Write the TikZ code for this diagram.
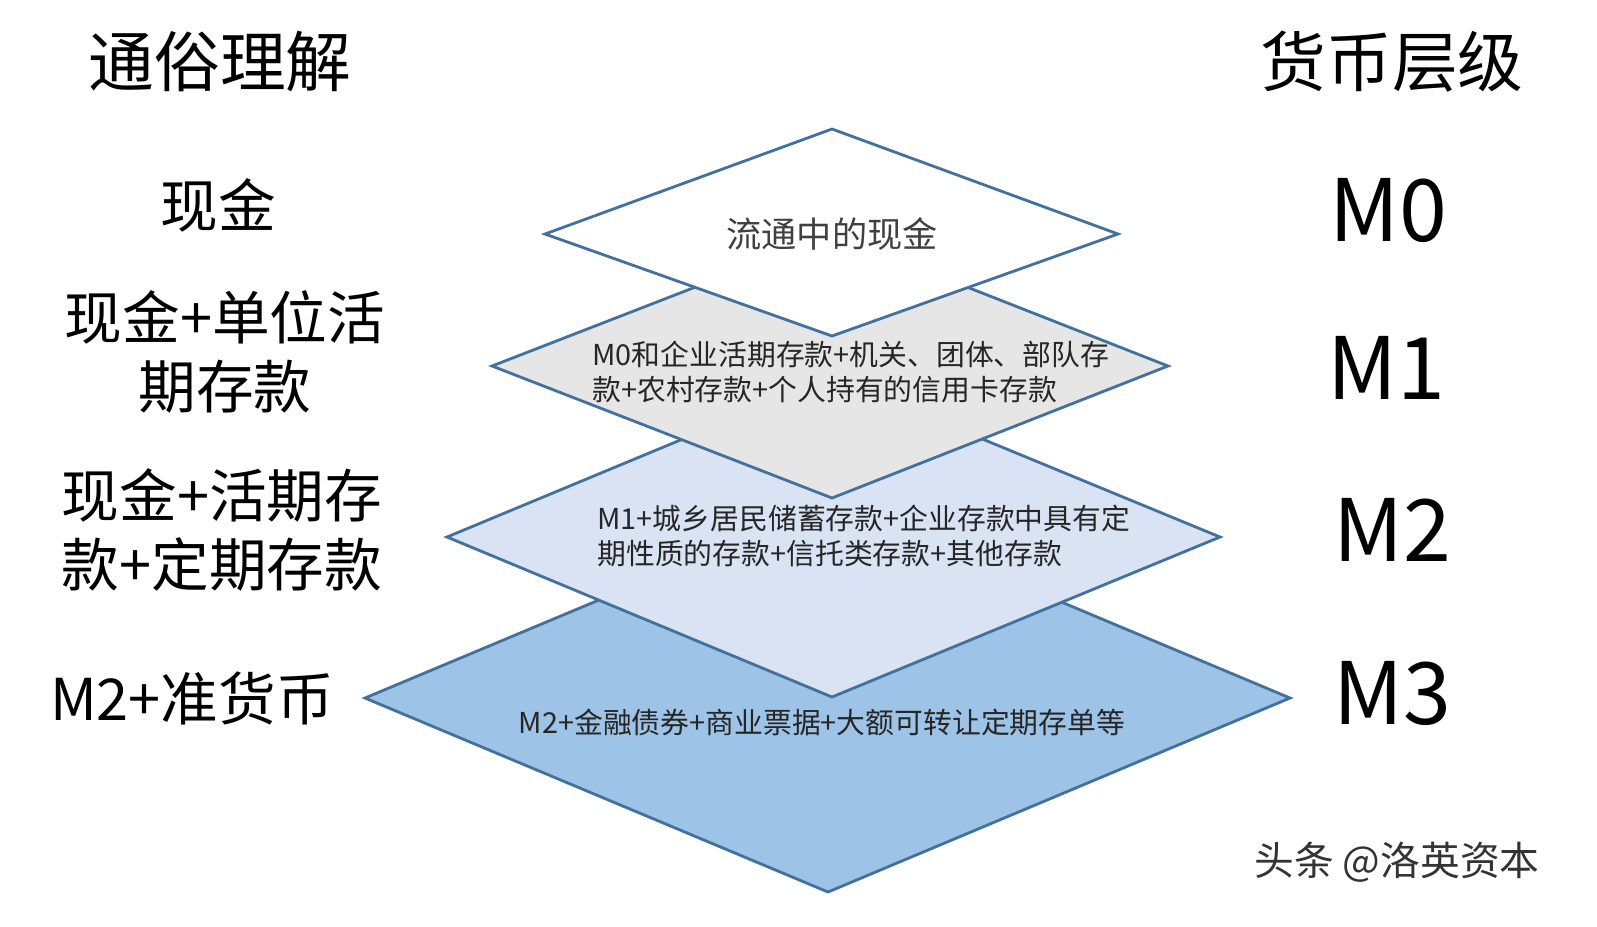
\documentclass[tikz,border=0pt]{standalone}
\usepackage{fontspec}
\setmainfont{Noto Sans CJK SC}
\definecolor{edge}{HTML}{41719C}
\definecolor{lvthree}{HTML}{9DC3E6}
\definecolor{lvtwo}{HTML}{DAE3F3}
\definecolor{lvone}{HTML}{E7E6E6}
\tikzset{
  layer/.style={draw=edge,line width=0.8pt},
  head/.style={font=\fontsize{18.7}{22}\selectfont},
  plain/.style={font=\fontsize{16.4}{19.5}\selectfont,align=center},
  level/.style={font=\fontsize{24.5}{28}\selectfont},
  inner/.style={font=\fontsize{8.2}{10}\selectfont,align=left,text=black!85}
}
\begin{document}
\begin{tikzpicture}[x=0.01cm,y=-0.01cm]
\useasboundingbox (0,0) rectangle (1597,926);
% stacked layers, bottom first
\filldraw[layer,fill=lvthree] (365,698) -- (828,504) -- (1290,698) -- (828,892) -- cycle;
\filldraw[layer,fill=lvtwo] (447,537) -- (832,377) -- (1220,537) -- (832,697) -- cycle;
\filldraw[layer,fill=lvone] (492,366) -- (832,234) -- (1168,366) -- (832,498) -- cycle;
\filldraw[layer,fill=white] (545,234) -- (832,129) -- (1118,234) -- (832,336) -- cycle;
% texts inside
\node[font=\fontsize{10}{12}\selectfont,text=black!75] (t0) at (832,234) {流通中的现金};
\node[inner,anchor=west] (t1) at (580,372) {M0和企业活期存款+机关、团体、部队存\\款+农村存款+个人持有的信用卡存款};
\node[inner,anchor=west] (t2) at (585,536) {M1+城乡居民储蓄存款+企业存款中具有定\\期性质的存款+信托类存款+其他存款};
\node[inner] (t3) at (822,722) {M2+金融债券+商业票据+大额可转让定期存单等};
% headings
\node[head] (hl) at (220,62) {通俗理解};
\node[head] (hr) at (1392,62) {货币层级};
% left column
\node[plain] (l0) at (218,205) {现金};
\node[plain] (l1) at (225,352) {现金+单位活\\期存款};
\node[plain] (l2) at (222,530) {现金+活期存\\款+定期存款};
\node[plain] (l3) at (192,698) {M2+准货币};
% right column
\node[level] (r0) at (1388,210) {M0};
\node[level] (r1) at (1386,368) {M1};
\node[level] (r2) at (1392,530) {M2};
\node[level] (r3) at (1392,693) {M3};
% watermark
\node[font=\fontsize{11.3}{13}\selectfont,text=black!80] (wm) at (1397,862) {头条 @洛英资本};
\end{tikzpicture}
\end{document}
